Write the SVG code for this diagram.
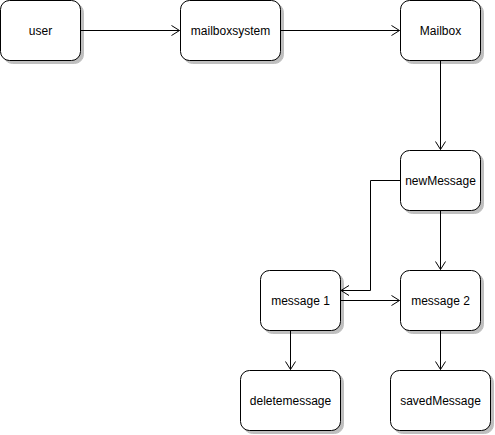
<svg xmlns="http://www.w3.org/2000/svg" width="495" height="435" viewBox="0 0 495 435">
<defs>
<marker id="arr" markerWidth="12" markerHeight="12" refX="10" refY="6" orient="auto" markerUnits="userSpaceOnUse">
<path d="M2,1 L10,6 L2,11" fill="none" stroke="#000" stroke-width="1"/>
</marker>
<filter id="sh" x="-10%" y="-10%" width="130%" height="130%">
<feOffset in="SourceAlpha" dx="3" dy="3" result="o"/>
<feColorMatrix in="o" type="matrix" values="0 0 0 0 0  0 0 0 0 0  0 0 0 0 0  0 0 0 0.25 0" result="c"/>
<feMerge><feMergeNode in="c"/><feMergeNode in="SourceGraphic"/></feMerge>
</filter>
</defs>
<style>
.n rect{fill:#fff;stroke:#000;stroke-width:1;filter:url(#sh)}
.n text{font-family:"Liberation Sans",Arial,sans-serif;font-size:12px;fill:#000;text-anchor:middle;dominant-baseline:central}
.e path{fill:none;stroke:#000;stroke-width:1;marker-end:url(#arr)}
</style>
<rect width="495" height="435" fill="#fff"/>
<g class="e" id="connectors">
<path d="M80.5,30.5 H179.5"/>
<path d="M280.5,30.5 H399.5"/>
<path d="M440.5,60.5 V149.5"/>
<path d="M400.5,180.5 H370.5 V290.5 H341"/>
<path d="M440.5,210.5 V269.5"/>
<path d="M340.5,300.5 H399.5"/>
<path d="M290.5,330.5 V369.5"/>
<path d="M440.5,330.5 V369.5"/>
</g>
<g class="n" id="user"><rect x="0.5" y="0.5" width="80" height="60" rx="9"/><text x="40.5" y="30.5">user</text></g>
<g class="n" id="mailboxsystem"><rect x="180.5" y="0.5" width="100" height="60" rx="9"/><text x="230.5" y="30.5">mailboxsystem</text></g>
<g class="n" id="Mailbox"><rect x="400.5" y="0.5" width="80" height="60" rx="9"/><text x="440.5" y="30.5">Mailbox</text></g>
<g class="n" id="newMessage"><rect x="400.5" y="150.5" width="80" height="60" rx="9"/><text x="440.5" y="180.5">newMessage</text></g>
<g class="n" id="message1"><rect x="260.5" y="270.5" width="80" height="60" rx="9"/><text x="300.5" y="300.5">message 1</text></g>
<g class="n" id="message2"><rect x="400.5" y="270.5" width="80" height="60" rx="9"/><text x="440.5" y="300.5">message 2</text></g>
<g class="n" id="deletemessage"><rect x="240.5" y="370.5" width="100" height="60" rx="9"/><text x="290.5" y="400.5">deletemessage</text></g>
<g class="n" id="savedMessage"><rect x="390.5" y="370.5" width="100" height="60" rx="9"/><text x="440.5" y="400.5">savedMessage</text></g>
</svg>
